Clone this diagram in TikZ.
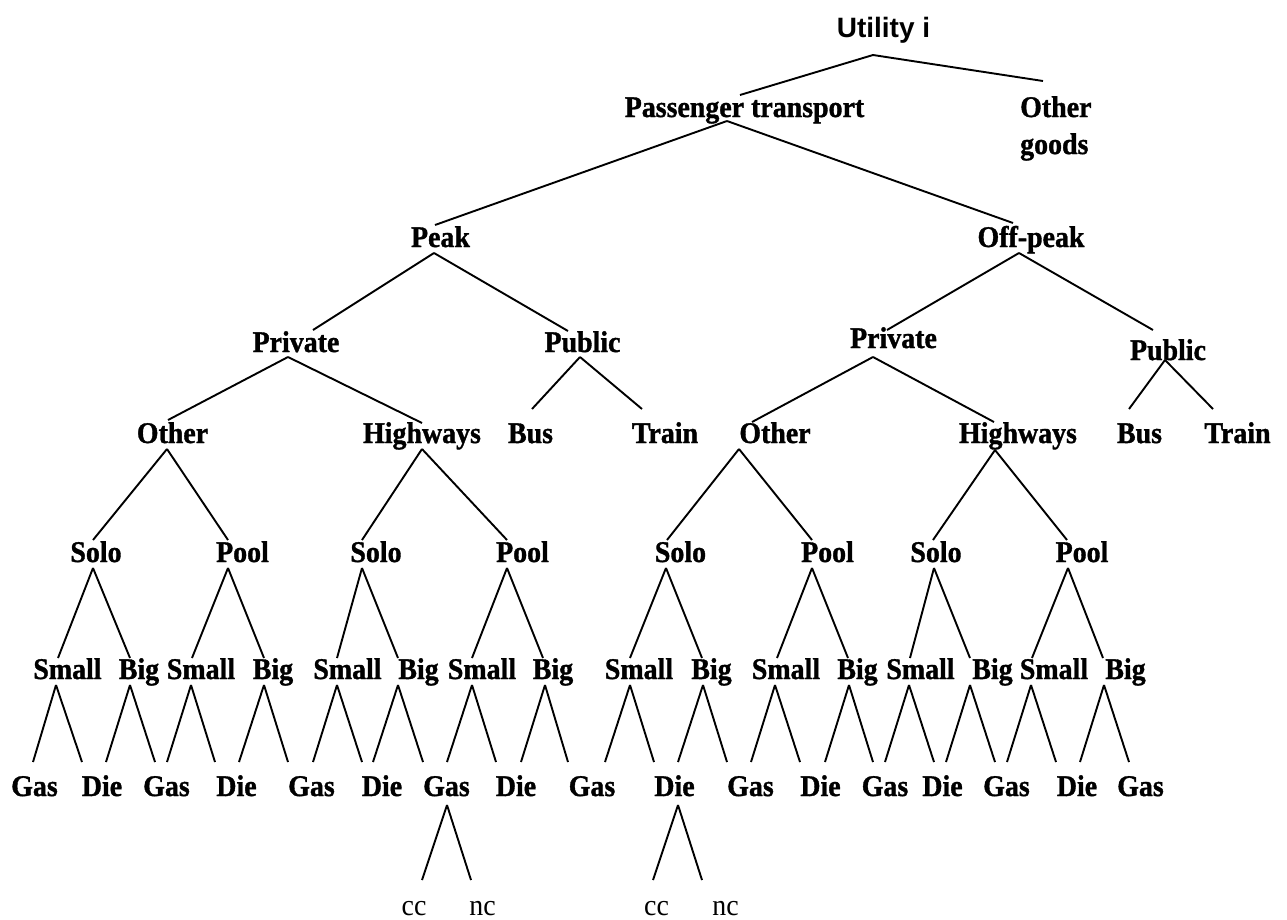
\documentclass[tikz,border=0pt]{standalone}
\usepackage{fontspec}
\setmainfont{Liberation Serif}
\newfontfamily\tallfont[FakeStretch=0.93, BoldFeatures={FakeBold=1.2}]{Liberation Serif}
\newfontfamily\utilfont{Liberation Sans}
\tikzset{
  lbl/.style={inner sep=0pt, anchor=base, font=\tallfont\fontsize{30}{36}\selectfont\bfseries},
  sub/.style={inner sep=0pt, anchor=base, font=\tallfont\fontsize{30}{36}\selectfont},
  br/.style={line width=1.9pt}
}
\newcommand\lk[4]{\draw[br] ([shift={(#2)}]#1) -- ([shift={(#4)}]#3);}
\begin{document}
\begin{tikzpicture}[x=1pt,y=-1pt]
\useasboundingbox (0,0) rectangle (1287,919);
% level 0-2
\node[lbl, font=\fontsize{28}{34}\selectfont\utilfont\bfseries] (u) at (883.5,37) {Utility i};
\node[lbl] (pt) at (744.5,117) {Passenger transport};
\node[lbl, anchor=north west, align=left, font=\tallfont\fontsize{30}{37}\selectfont\bfseries] (og) at (1020,96) {Other\\goods};
\node[lbl] (peak) at (440.5,247) {Peak};
\node[lbl] (offp) at (1031,247) {Off-peak};
% level 3
\node[lbl] (priv1) at (296,352) {Private};
\node[lbl] (pub1) at (582.5,352) {Public};
\node[lbl] (priv2) at (893.5,348) {Private};
\node[lbl] (pub2) at (1168,360) {Public};
% level 4
\node[lbl] (oth1) at (172.5,443) {Other};
\node[lbl] (hw1) at (422,443) {Highways};
\node[lbl] (bus1) at (530.5,443) {Bus};
\node[lbl] (tr1) at (665,443) {Train};
\node[lbl] (oth2) at (775,443) {Other};
\node[lbl] (hw2) at (1018,443) {Highways};
\node[lbl] (bus2) at (1139.5,443) {Bus};
\node[lbl] (tr2) at (1237.5,443) {Train};
% level 5
\node[lbl] (so1) at (96,562) {Solo};
\node[lbl] (po1) at (242.5,562) {Pool};
\node[lbl] (so2) at (376,562) {Solo};
\node[lbl] (po2) at (522.5,562) {Pool};
\node[lbl] (so3) at (680.5,562) {Solo};
\node[lbl] (po3) at (827.5,562) {Pool};
\node[lbl] (so4) at (936,562) {Solo};
\node[lbl] (po4) at (1082,562) {Pool};
% level 6
\node[lbl] (sm1) at (67.5,679) {Small};
\node[lbl] (bg1) at (139,679) {Big};
\node[lbl] (sm2) at (201,679) {Small};
\node[lbl] (bg2) at (273,679) {Big};
\node[lbl] (sm3) at (347.5,679) {Small};
\node[lbl] (bg3) at (418.5,679) {Big};
\node[lbl] (sm4) at (482,679) {Small};
\node[lbl] (bg4) at (553,679) {Big};
\node[lbl] (sm5) at (639,679) {Small};
\node[lbl] (bg5) at (711.5,679) {Big};
\node[lbl] (sm6) at (786,679) {Small};
\node[lbl] (bg6) at (857.5,679) {Big};
\node[lbl] (sm7) at (920.5,679) {Small};
\node[lbl] (bg7) at (992.5,679) {Big};
\node[lbl] (sm8) at (1054,679) {Small};
\node[lbl] (bg8) at (1125.5,679) {Big};
% level 7
\node[lbl] (l1) at (34.5,796) {Gas};
\node[lbl] (l2) at (102,796) {Die};
\node[lbl] (l3) at (166.5,796) {Gas};
\node[lbl] (l4) at (236.5,796) {Die};
\node[lbl] (l5) at (311.5,796) {Gas};
\node[lbl] (l6) at (382,796) {Die};
\node[lbl] (l7) at (446.5,796) {Gas};
\node[lbl] (l8) at (516,796) {Die};
\node[lbl] (l9) at (592,796) {Gas};
\node[lbl] (l10) at (674.5,796) {Die};
\node[lbl] (l11) at (750.5,796) {Gas};
\node[lbl] (l12) at (820.5,796) {Die};
\node[lbl] (l13) at (885,796) {Gas};
\node[lbl] (l14) at (942.5,796) {Die};
\node[lbl] (l15) at (1006.5,796) {Gas};
\node[lbl] (l16) at (1077,796) {Die};
\node[lbl] (l17) at (1140.5,796) {Gas};
% level 8
\node[sub] (c1) at (414,915) {cc};
\node[sub] (n1) at (482.5,915) {nc};
\node[sub] (c2) at (656.5,915) {cc};
\node[sub] (n2) at (725.5,915) {nc};
% connectors
\lk{u.base}{-10.5,18}{pt.base}{-4.5,-22}
\lk{u.base}{-10.5,18}{og.north west}{23,-15}
\lk{pt.base}{-17.5,4}{peak.base}{-5.5,-22}
\lk{pt.base}{-17.5,4}{offp.base}{-18,-24}
\lk{peak.base}{-6.5,6}{priv1.base}{17,-22}
\lk{peak.base}{-6.5,6}{pub1.base}{-14.5,-21}
\lk{offp.base}{-12,6}{priv2.base}{-6.5,-18}
\lk{offp.base}{-12,6}{pub2.base}{-15,-30}
\lk{priv1.base}{-8,5}{oth1.base}{-4.5,-23}
\lk{priv1.base}{-8,5}{hw1.base}{0,-20}
\lk{pub1.base}{-2.5,5}{bus1.base}{1.5,-34}
\lk{pub1.base}{-2.5,5}{tr1.base}{-23,-34}
\lk{priv2.base}{-20.5,9}{oth2.base}{-23,-21}
\lk{priv2.base}{-20.5,9}{hw2.base}{-24,-21}
\lk{pub2.base}{-3,0}{bus2.base}{-10.5,-34}
\lk{pub2.base}{-3,0}{tr2.base}{-24.5,-34}
\lk{oth1.base}{-5.5,6}{so1.base}{-3,-22}
\lk{oth1.base}{-5.5,6}{po1.base}{-14.5,-22}
\lk{hw1.base}{0,6}{so2.base}{-14,-22}
\lk{hw1.base}{0,6}{po2.base}{-15.5,-22}
\lk{oth2.base}{-36,6}{so3.base}{-13.5,-22}
\lk{oth2.base}{-36,6}{po3.base}{-15.5,-22}
\lk{hw2.base}{-23,7}{so4.base}{-3,-22}
\lk{hw2.base}{-23,7}{po4.base}{-15,-22}
% solo/pool -> small/big
\lk{so1.base}{-3,6}{sm1.base}{-9.5,-21}
\lk{so1.base}{-3,6}{bg1.base}{-9,-21}
\lk{po1.base}{-14.5,6}{sm2.base}{-9,-21}
\lk{po1.base}{-14.5,6}{bg2.base}{-9,-21}
\lk{so2.base}{-14,6}{sm3.base}{-10.5,-21}
\lk{so2.base}{-14,6}{bg3.base}{-20.5,-21}
\lk{po2.base}{-15.5,6}{sm4.base}{-10,-21}
\lk{po2.base}{-15.5,6}{bg4.base}{-10,-21}
\lk{so3.base}{-14.5,6}{sm5.base}{-9,-21}
\lk{so3.base}{-14.5,6}{bg5.base}{-9.5,-21}
\lk{po3.base}{-15.5,6}{sm6.base}{-9,-21}
\lk{po3.base}{-15.5,6}{bg6.base}{-9.5,-21}
\lk{so4.base}{-2,6}{sm7.base}{-10.5,-21}
\lk{so4.base}{-2,6}{bg7.base}{-22.5,-21}
\lk{po4.base}{-14,6}{sm8.base}{-22,-21}
\lk{po4.base}{-14,6}{bg8.base}{-22.5,-21}
% small/big -> gas/die
\lk{sm1.base}{-11.5,6}{l1.base}{-1.5,-34}
\lk{sm1.base}{-11.5,6}{l2.base}{-20,-34}
\lk{bg1.base}{-9,6}{l2.base}{4,-34}
\lk{bg1.base}{-9,6}{l3.base}{-11.5,-34}
\lk{sm2.base}{-10,6}{l3.base}{0.5,-34}
\lk{sm2.base}{-10,6}{l4.base}{-21.5,-34}
\lk{bg2.base}{-9,6}{l4.base}{2.5,-34}
\lk{bg2.base}{-9,6}{l5.base}{-23.5,-34}
\lk{sm3.base}{-10.5,6}{l5.base}{1.5,-34}
\lk{sm3.base}{-10.5,6}{l6.base}{-20,-34}
\lk{bg3.base}{-20.5,6}{l6.base}{-9,-34}
\lk{bg3.base}{-20.5,6}{l7.base}{-23.5,-34}
\lk{sm4.base}{-10,6}{l7.base}{0.5,-34}
\lk{sm4.base}{-10,6}{l8.base}{-20,-34}
\lk{bg4.base}{-8,6}{l8.base}{5,-34}
\lk{bg4.base}{-8,6}{l9.base}{-24,-34}
\lk{sm5.base}{-9,6}{l9.base}{13,-34}
\lk{sm5.base}{-9,6}{l10.base}{-20.5,-34}
\lk{bg5.base}{-8.5,6}{l10.base}{3.5,-34}
\lk{bg5.base}{-8.5,6}{l11.base}{-23.5,-34}
\lk{sm6.base}{-11,6}{l11.base}{0.5,-34}
\lk{sm6.base}{-11,6}{l12.base}{-20.5,-34}
\lk{bg6.base}{-8.5,6}{l12.base}{4.5,-34}
\lk{bg6.base}{-8.5,6}{l13.base}{-12,-34}
\lk{sm7.base}{-11.5,6}{l13.base}{0,-34}
\lk{sm7.base}{-11.5,6}{l14.base}{-8.5,-34}
\lk{bg7.base}{-22.5,6}{l14.base}{3.5,-34}
\lk{bg7.base}{-22.5,6}{l15.base}{-11.5,-34}
\lk{sm8.base}{-23,6}{l15.base}{0.5,-34}
\lk{sm8.base}{-23,6}{l16.base}{-21,-34}
\lk{bg8.base}{-21.5,6}{l16.base}{3,-34}
\lk{bg8.base}{-21.5,6}{l17.base}{-11.5,-34}
% gas/die -> cc/nc
\lk{l7.base}{0.5,9}{c1.base}{8,-35}
\lk{l7.base}{0.5,9}{n1.base}{-11.5,-35}
\lk{l10.base}{3.5,9}{c2.base}{-3.5,-35}
\lk{l10.base}{3.5,9}{n2.base}{-23.5,-35}
\end{tikzpicture}
\end{document}
